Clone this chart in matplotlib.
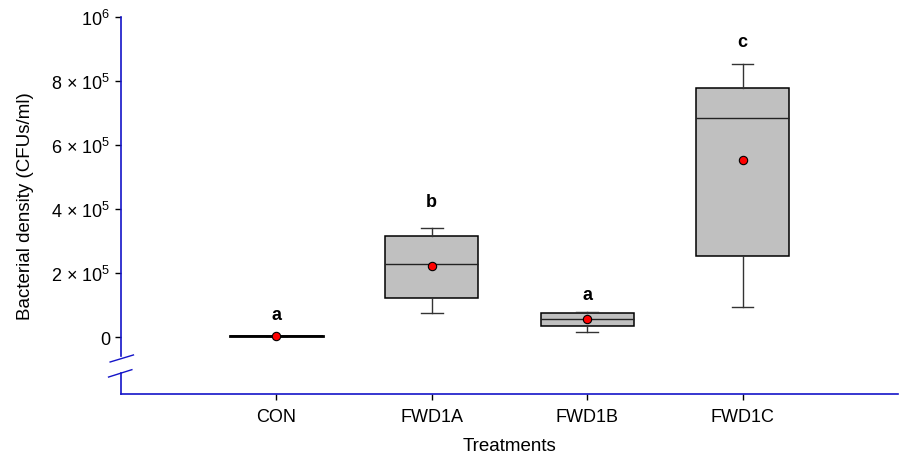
#!/bin/env python3
"""
    Box plot of bacterial density for each treatment, with group means
    and significance letters. Broken y axis below zero.
"""
import matplotlib
matplotlib.use("Agg")
import matplotlib.pyplot as plt

plt.rcParams["font.family"] = ["Liberation Sans", "DejaVu Sans"]
plt.rcParams["mathtext.fontset"] = "custom"
plt.rcParams["mathtext.rm"] = "Liberation Sans"
plt.rcParams["mathtext.it"] = "Liberation Sans:italic"

##########################################################################################
# data (CFUs/ml)
treatments = ["CON", "FWD1A", "FWD1B", "FWD1C"]
wlo = [2000, 75000, 15000, 95000]       # lower whisker
q1 = [2000, 121000, 34000, 254000]      # box bottom
med = [2000, 229000, 56000, 685000]     # median
q3 = [2000, 317000, 74000, 778000]      # box top
whi = [2000, 342000, 79000, 853000]     # upper whisker
means = [2000, 223000, 55000, 552000]
letters = ["a", "b", "a", "c"]
letter_y = [69000, 422000, 134000, 922000]

yticks = [0, 200000, 400000, 600000, 800000, 1000000]
yticklabels = ["0", r"2 × 10$^{5}$", r"4 × 10$^{5}$", r"6 × 10$^{5}$",
               r"8 × 10$^{5}$", r"10$^{6}$"]

axis_blue = "#1414c8"

##########################################################################################
fig = plt.figure(figsize=(9.01, 4.60), dpi=100)
ax = fig.add_axes([121/901, 65/460, 777/901, 377/460])

pos = list(range(1, len(treatments)+1))
stats = []
for i in range(len(treatments)):
    stats.append({"whislo": wlo[i], "q1": q1[i], "med": med[i], "q3": q3[i],
                  "whishi": whi[i], "fliers": [], "label": treatments[i]})

ax.bxp(stats, positions=pos, widths=0.6, capwidths=0.14, patch_artist=True,
       showfliers=False,
       boxprops=dict(facecolor="#c0c0c0", edgecolor="black", linewidth=1.1),
       medianprops=dict(color="#222222", linewidth=1.0),
       whiskerprops=dict(color="#333333", linewidth=1.0),
       capprops=dict(color="#333333", linewidth=1.0))

# CON is a flat line, draw it thicker like the original
ax.plot([pos[0]-0.3, pos[0]+0.3], [med[0], med[0]], color="black", lw=2, zorder=3)

ax.plot(pos, means, "o", color="red", markeredgecolor="black",
        markeredgewidth=0.8, markersize=6, zorder=4)

for p, t, y in zip(pos, letters, letter_y):
    ax.text(p, y, t, ha="center", va="center", fontsize=13, fontweight="bold")

# axes setup
ax.set_xlim(0, 5)
ax.set_ylim(-178000, 1000000)
ax.set_xticks(pos)
ax.set_xticklabels(treatments, fontsize=13)
ax.set_yticks(yticks)
ax.set_yticklabels(yticklabels, fontsize=13)
ax.tick_params(axis="both", direction="out", length=4, width=1, color="black")
ax.tick_params(axis="x", pad=6)
ax.tick_params(axis="y", pad=4)
ax.set_xlabel("Treatments", fontsize=13.5, labelpad=9)
ax.set_ylabel("Bacterial density (CFUs/ml)", fontsize=13.5, labelpad=12)

ax.spines["top"].set_visible(False)
ax.spines["right"].set_visible(False)
ax.spines["bottom"].set_color(axis_blue)
ax.spines["bottom"].set_linewidth(1.2)
ax.spines["left"].set_color(axis_blue)
ax.spines["left"].set_linewidth(1.2)
ax.spines["left"].set_bounds(-59000, 1000000)

# lower piece of the broken y axis and the break marks
ax.plot([0, 0], [-112000, -178000], color=axis_blue, lw=1.2, clip_on=False)
ax.plot([-0.07, 0.08], [-78000, -56000], color=axis_blue, lw=1.0, clip_on=False)
ax.plot([-0.08, 0.07], [-125000, -102000], color=axis_blue, lw=1.0, clip_on=False)

plt.savefig("out.png", dpi=100)
